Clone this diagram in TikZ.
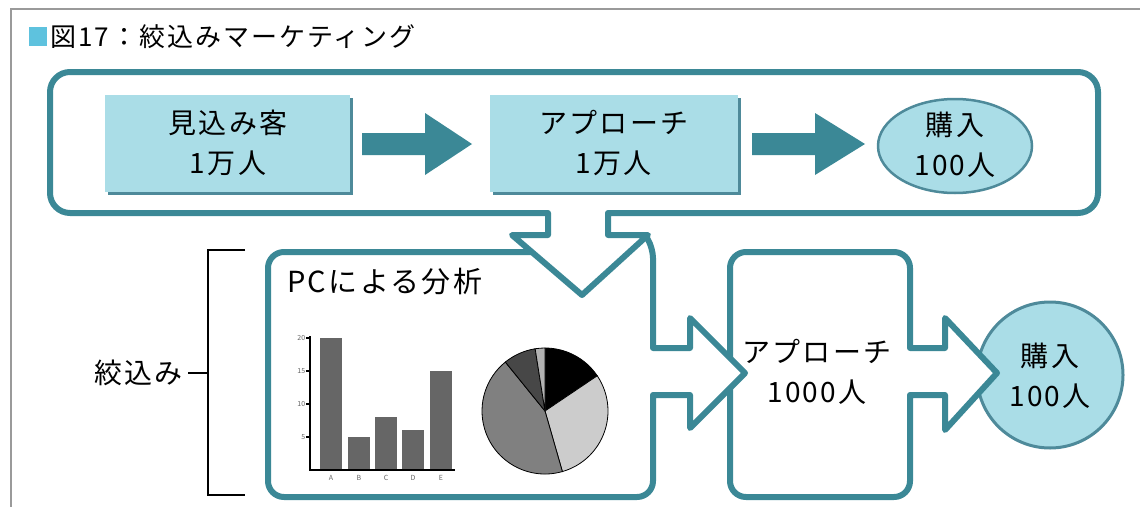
\documentclass[tikz,border=0pt]{standalone}
\usepackage{fontspec}
\setmainfont{Noto Sans CJK JP}
\newfontfamily\wide{Noto Sans CJK JP}[LetterSpace=8]
\definecolor{tealc}{HTML}{3B8896}
\definecolor{lblue}{HTML}{AADDE7}
\definecolor{shadowc}{HTML}{4E8A9A}
\definecolor{framec}{HTML}{9A9A9A}
\definecolor{sqc}{HTML}{5EC2DE}
\definecolor{barc}{HTML}{666666}
\tikzset{
  outline/.style={draw=tealc, line width=6, fill=white, line join=round},
  lbl/.style={font=\wide\fontsize{28}{40}\selectfont, align=center, inner sep=0},
  blockarrow/.style={fill=tealc, draw=none},
  tiny/.style={font=\fontsize{7}{8}\selectfont, text=barc, inner sep=0},
}
\begin{document}
\begin{tikzpicture}[x=1pt, y=-1pt]
\useasboundingbox (0,0) rectangle (1140,506);
% outer frame
\draw[framec, line width=2.2] (11,510) -- (11,9) -- (1145,9);
% title
\fill[sqc] (29,27) rectangle (47,46);
\node[anchor=west, font=\wide\fontsize{26}{28}\selectfont, inner sep=0] (title) at (50,37) {図17：絞込みマーケティング};

% purchase circle
\draw[draw=shadowc, line width=3, fill=lblue] (1050,375) circle [radius=73];
% middle box with arrow out
\draw[outline] (730,320) [rounded corners=16] -- (730,252) -- (910,252) [sharp corners] -- (910,348) -- (945,348) -- (945,318) -- (997,373) -- (945,430) -- (945,395) -- (910,395) [rounded corners=16] -- (910,497) -- (730,497) -- (730,320) -- cycle;
% PC box with arrow out
\draw[outline] (560,252) [rounded corners=16] -- (268,252) -- (268,497) -- (653,497) [sharp corners] -- (653,395) -- (690,395) -- (690,428) -- (745,373) -- (690,318) -- (690,348) -- (653,348) [rounded corners=10] -- (653,248) [sharp corners] -- (647,238);
% top box with down arrow
\draw[outline] (548,213) [rounded corners=20] -- (50,213) -- (50,72) -- (1098,72) -- (1098,213) [sharp corners] -- (608,213) -- (608,235) -- (648,235) -- (582,295) -- (512,235) -- (548,235) -- cycle;

% top boxes
\fill[shadowc] (108,98) rectangle (353,195);
\fill[lblue] (105,95) rectangle (350,192);
\fill[shadowc] (493,98) rectangle (741,195);
\fill[lblue] (490,95) rectangle (738,192);
\draw[draw=shadowc, line width=2.5, fill=lblue] (955,146) ellipse [x radius=77, y radius=47];
\node[lbl] (prospect) at (228,143) {見込み客\\1万人};
\node[lbl] (approach1) at (614,143) {アプローチ\\1万人};
\node[lbl] (buy1) at (955,145) {購入\\100人};
\fill[blockarrow] (362,133) -- (425,133) -- (425,113) -- (472,144) -- (425,175) -- (425,155) -- (362,155) -- cycle;
\fill[blockarrow] (752,133) -- (815,133) -- (815,113) -- (865,144) -- (815,175) -- (815,155) -- (752,155) -- cycle;

% lower texts
\node[anchor=west, font=\wide\fontsize{29}{32}\selectfont, inner sep=0] (pc) at (287,282) {PCによる分析};
\node[lbl] (approach2) at (817,372) {アプローチ\\1000人};
\node[lbl] (buy2) at (1050,376) {購入\\100人};

% bracket
\node[anchor=east, font=\wide\fontsize{28}{30}\selectfont, inner sep=0] (narrow) at (183,373) {絞込み};
\draw[line width=1.5] (245,250) -- (208,250) -- (208,495) -- (245,495);
\draw[line width=1.5] (narrow.east) ++(5,0) coordinate (nb) -- (208,373);

% bar chart
\foreach \x/\h in {320/20, 348/5, 375/8, 402/6, 430/15}
  \fill[barc] (\x,470) rectangle ++(22,-6.6*\h);
\draw[line width=2.5] (310,336) -- (310,470) -- (455,470);
\foreach \v/\t in {0/20, 1/15, 2/10, 3/5}
  \draw[line width=1.5] (310,338+33*\v) -- ++(-4,0) node[tiny, anchor=east] {\t};
\foreach \x/\t in {331/A, 359/B, 386/C, 413/D, 441/E}
  \node[tiny, anchor=north] at (\x,475) {\t};

% pie chart
\coordinate (pie) at (545,411);
\filldraw[fill=black, draw=black, line width=0.8] (pie) -- ++(-90:63) arc[start angle=-90, end angle=-34, radius=63] -- cycle;
\filldraw[fill=black!20, draw=black, line width=0.8] (pie) -- ++(-34:63) arc[start angle=-34, end angle=74, radius=63] -- cycle;
\filldraw[fill=black!50, draw=black, line width=0.8] (pie) -- ++(74:63) arc[start angle=74, end angle=231, radius=63] -- cycle;
\filldraw[fill=black!72, draw=black, line width=0.8] (pie) -- ++(231:63) arc[start angle=231, end angle=261, radius=63] -- cycle;
\filldraw[fill=black!30, draw=black, line width=0.8] (pie) -- ++(261:63) arc[start angle=261, end angle=270, radius=63] -- cycle;
\end{tikzpicture}
\end{document}
